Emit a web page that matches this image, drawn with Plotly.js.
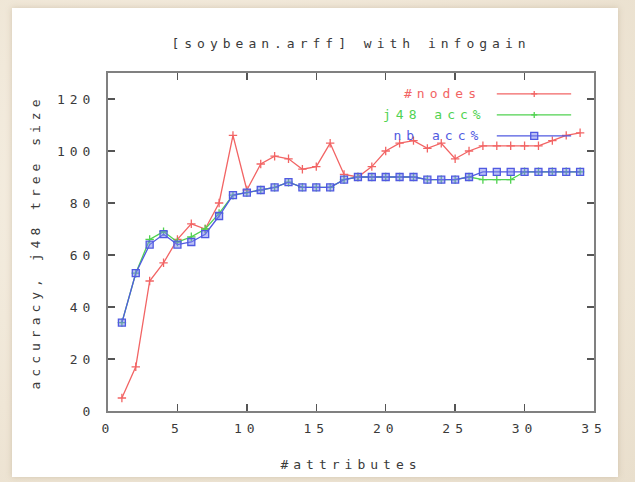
<!DOCTYPE html>
<html>
<head>
<meta charset="utf-8">
<script src="https://cdn.plot.ly/plotly-3.0.1.min.js"></script>
<style>
  html, body { margin: 0; padding: 0; }
  body {
    width: 635px; height: 482px; overflow: hidden;
    background: radial-gradient(ellipse at 30% 40%, #f6f0e4 0%, #efe6d6 60%, #e9dfcd 100%);
    position: relative;
  }
  #card {
    position: absolute; left: 12px; top: 8px; width: 606px; height: 469px;
    background: #ffffff;
    box-shadow: 0 0 6px rgba(160,140,110,0.35);
  }
  #chart { position: absolute; left: 12px; top: 8px; width: 606px; height: 474px; }
  #chart svg text { letter-spacing: 5px; }
</style>
</head>
<body>
<div id="card"></div>
<div id="chart"></div>
<script>
// ---- data ----
const attributes = [1,2,3,4,5,6,7,8,9,10,11,12,13,14,15,16,17,18,19,20,21,22,23,24,25,26,27,28,29,30,31,32,33,34];
const nodes   = [5,17,50,57,66,72,70,80,106,85,95,98,97,93,94,103,91,90,94,100,103,104,101,103,97,100,102,102,102,102,102,104,106,107];
const j48Acc  = [34,53,66,69,65,67,70,76,83,84,85,86,88,86,86,86,89,90,90,90,90,90,89,89,89,90,89,89,89,92,92,92,92,92];
const nbAcc   = [34,53,64,68,64,65,68,75,83,84,85,86,88,86,86,86,89,90,90,90,90,90,89,89,89,90,92,92,92,92,92,92,92,92];
const seriesNames = ["#nodes", "j48 acc%", "nb acc%"];
const xTickVals = [0,5,10,15,20,25,30,35];
const yTickVals = [0,20,40,60,80,100,120];

const RED = "rgb(242,100,100)", GREEN = "rgb(80,210,80)", BLUE = "rgb(80,90,225)";
const FONT = "DejaVu Sans Mono";
const TXT = "#3a3a3a";

const traces = [
  {x: attributes, y: nodes, name: seriesNames[0], mode: "lines+markers",
   line: {color: RED, width: 1.3},
   marker: {symbol: "cross-thin", size: 6, line: {color: RED, width: 1.3}}},
  {x: attributes, y: j48Acc, name: seriesNames[1], mode: "lines+markers",
   line: {color: GREEN, width: 1.3},
   marker: {symbol: "cross-thin", size: 6, line: {color: GREEN, width: 1.3}}},
  {x: attributes, y: nbAcc, name: seriesNames[2], mode: "lines+markers",
   line: {color: BLUE, width: 1.3},
   marker: {symbol: "square", size: 7, color: "rgba(120,130,235,0.5)", line: {color: BLUE, width: 1.3}}}
];

// legend (gnuplot style: text right-aligned, sample line to the right)
const legY = [0.938, 0.876, 0.814];
const legColors = [RED, GREEN, BLUE];
const annotations = seriesNames.map((n, i) => ({
  xref: "paper", yref: "paper", x: 0.740, y: legY[i], xanchor: "right", yanchor: "middle",
  text: n, showarrow: false, font: {family: FONT, size: 13, color: legColors[i]}
}));
const shapes = [];
legColors.forEach((c, i) => {
  shapes.push({type: "line", xref: "paper", yref: "paper", x0: 0.800, x1: 0.953, y0: legY[i], y1: legY[i],
               line: {color: c, width: 1.3}});
});
shapes.push({type: "path", xref: "paper", yref: "paper", xsizemode: "pixel", ysizemode: "pixel",
             xanchor: 0.877, yanchor: legY[0], path: "M-3,0L3,0M0,-3L0,3", line: {color: RED, width: 1.3}});
shapes.push({type: "path", xref: "paper", yref: "paper", xsizemode: "pixel", ysizemode: "pixel",
             xanchor: 0.877, yanchor: legY[1], path: "M-3,0L3,0M0,-3L0,3", line: {color: GREEN, width: 1.3}});
shapes.push({type: "rect", xref: "paper", yref: "paper", xsizemode: "pixel", ysizemode: "pixel",
             xanchor: 0.877, yanchor: legY[2], x0: -3.5, x1: 3.5, y0: -3.5, y1: 3.5,
             fillcolor: "rgba(120,130,235,0.5)", line: {color: BLUE, width: 1.3}});

const axisCommon = {
  showline: true, linecolor: "#808080", linewidth: 2, mirror: "ticks",
  ticks: "inside", ticklen: 7, tickwidth: 1.5, tickcolor: "#555",
  showgrid: false, zeroline: false,
  tickfont: {family: FONT, size: 13, color: TXT}
};

const layout = {
  width: 606, height: 474,
  margin: {l: 96, r: 24, t: 65, b: 71},
  paper_bgcolor: "rgba(0,0,0,0)", plot_bgcolor: "#ffffff",
  showlegend: false,
  title: {text: "[soybean.arff] with infogain", xref: "paper", x: 0.5, xanchor: "center",
          yref: "container", y: 1 - 35/474, yanchor: "middle",
          font: {family: FONT, size: 13, color: TXT}},
  xaxis: Object.assign({}, axisCommon, {
    range: [0, 35], tickvals: xTickVals, ticklabelstandoff: 4, automargin: true,
    title: {text: "#attributes", standoff: 25, font: {family: FONT, size: 13, color: TXT}}
  }),
  yaxis: Object.assign({}, axisCommon, {
    range: [0, 130], tickvals: yTickVals, ticklabelstandoff: 8, automargin: true,
    title: {text: "accuracy, j48 tree size", standoff: 28, font: {family: FONT, size: 13, color: TXT}}
  }),
  annotations: annotations,
  shapes: shapes
};

Plotly.newPlot("chart", traces, layout, {displayModeBar: false, staticPlot: true});
</script>
</body>
</html>
